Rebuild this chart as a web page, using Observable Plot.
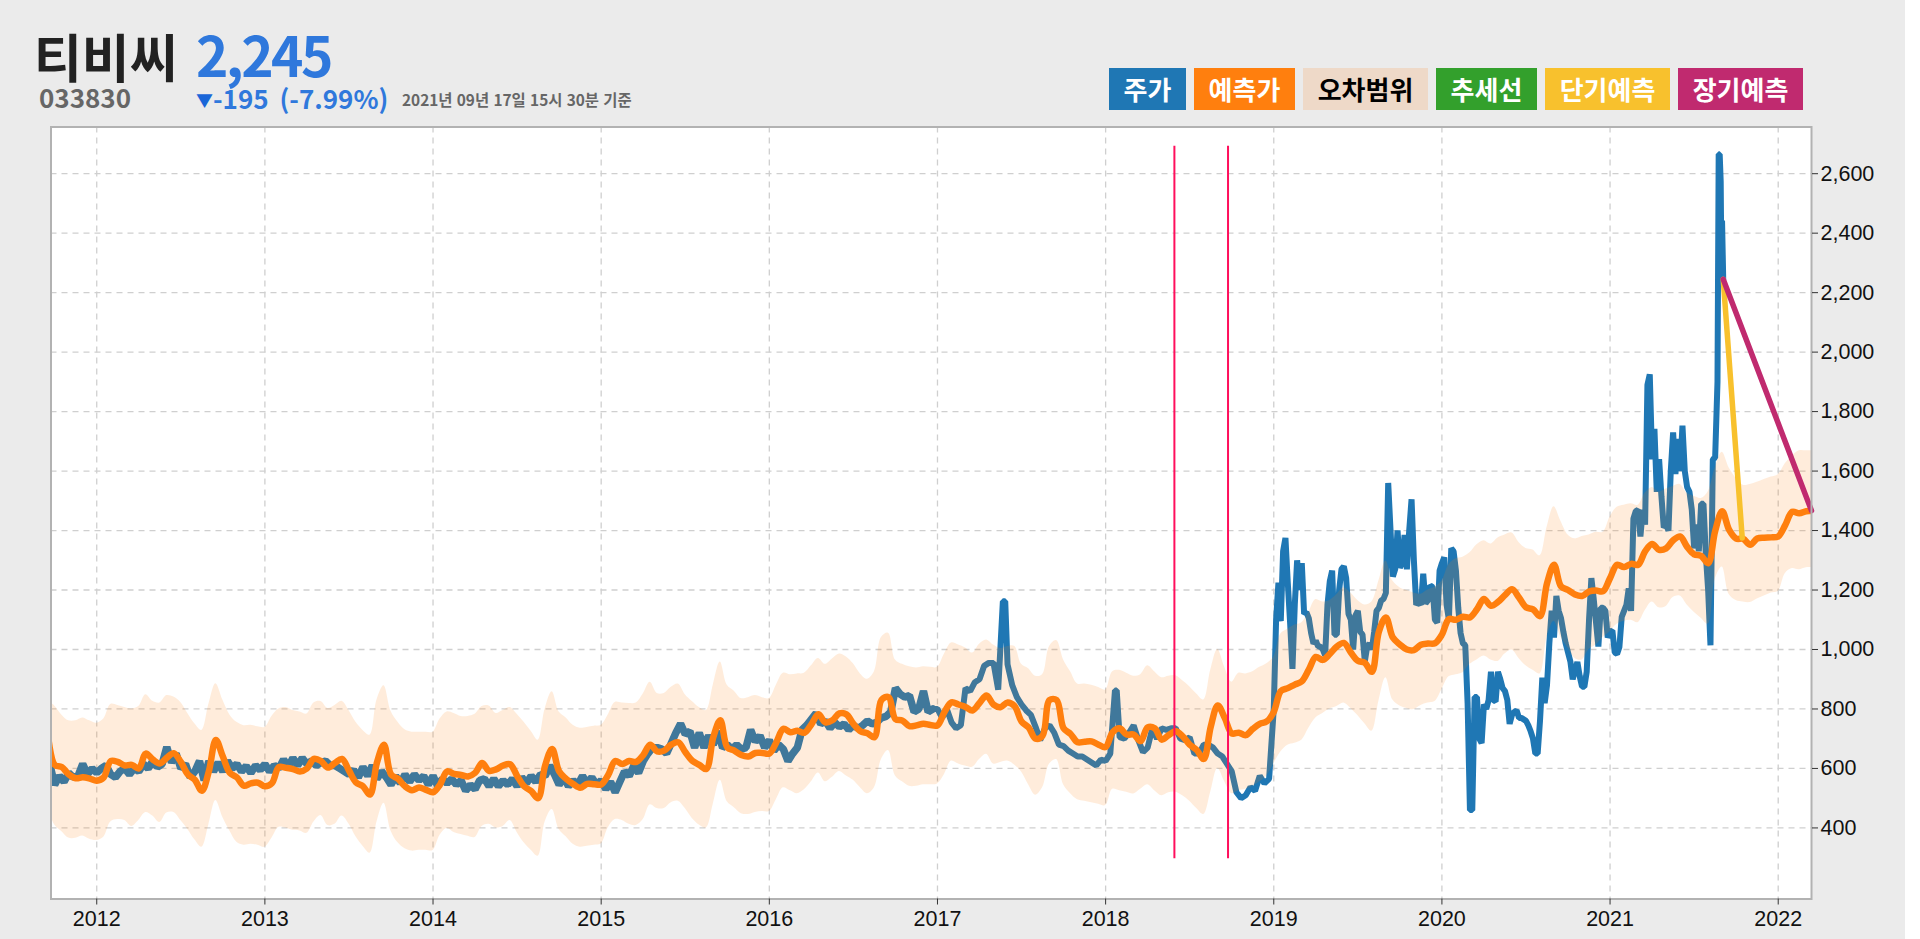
<!DOCTYPE html>
<html lang="ko">
<head>
<meta charset="utf-8">
<script src="https://cdn.jsdelivr.net/npm/d3@7"></script>
<script src="https://cdn.jsdelivr.net/npm/@observablehq/plot@0.6"></script>
<style>
html,body{margin:0;padding:0;background:#fff;overflow:hidden;height:939px}
#page{position:relative;width:1905px;height:939px;background:#ebebeb;overflow:hidden;font-family:"Noto Sans CJK KR",sans-serif}
#head{position:relative;height:120px}
#head div{position:absolute;white-space:nowrap;font-weight:700;line-height:1}
.lg{top:67.5px;height:42px;line-height:42px !important;text-align:center;font-size:26px;color:#fff}
#chart svg{display:block}
</style>
</head>
<body>
<div id="page">
  <div id="head">
    <div style="left:34px;top:30px;font-size:52px;color:#222">티비씨</div>
    <div style="left:39px;top:84px;font-size:26px;color:#666">033830</div>
    <div style="left:196px;top:26px;font-size:55px;color:#2f78dc;letter-spacing:-2.6px">2,245</div>
    <div style="left:196px;top:85px;font-size:26px;color:#2f78dc;word-spacing:5px"><span style="color:#1a66d8;font-size:17px;vertical-align:2px">▼</span>-195 (-7.99%)</div>
    <div style="left:402px;top:92px;font-size:15.4px;color:#666">2021년 09년 17일 15시 30분 기준</div>
    <div class="lg" style="left:1109px;width:77px;background:#1f77b4">주가</div>
    <div class="lg" style="left:1194px;width:101px;background:#ff7f0e">예측가</div>
    <div class="lg" style="left:1303px;width:125px;background:#eed9c8;color:#000">오차범위</div>
    <div class="lg" style="left:1436px;width:101px;background:#33a02c">추세선</div>
    <div class="lg" style="left:1545px;width:125px;background:#f8c12d">단기예측</div>
    <div class="lg" style="left:1678px;width:125px;background:#c02a6f">장기예측</div>
  </div>
  <div id="chart"></div>
</div>
<script>
// x positions are decimal years; every row holds readings
const xTicks = [2012,2013,2014,2015,2016,2017,2018,2019,2020,2021,2022];
const yTicks = [400,600,800,1000,1200,1400,1600,1800,2000,2200,2400,2600];
const xDomain = [2011.728, 2022.198];
const yDomain = [161, 2757];

// share price, 36 readings a year up to 2018, 72 after that
const stock2011 = [610,545,575,555,585,570,575,615,580,600];
const stock2012 = [585,600,610,580,570,590,600,580,600,590,615,600,625,605,615,672,620,650,600,615,570,590,625,560,625,590,620,590,625,600,615,590,608,585,610,595];
const stock2013 = [615,590,610,600,630,605,635,610,635,615,625,610,620,625,610,610,600,590,580,595,570,605,575,610,565,590,570,545,575,550,580,555,580,560,575,545];
const stock2014 = [575,540,565,550,565,545,560,525,545,530,560,565,540,565,540,560,545,565,540,570,550,575,555,580,575,610,580,545,570,540,560,545,575,550,570,545];
const stock2015 = [560,530,555,520,555,590,575,610,585,625,650,670,670,665,650,685,720,750,715,725,670,720,670,710,680,725,670,680,665,680,665,670,730,690,710,670];
const stock2016 = [695,660,680,665,625,650,670,730,745,765,785,750,760,735,755,740,750,730,745,735,745,760,750,755,770,775,790,870,850,840,845,790,800,860,790,800];
const stock2017 = [800,770,800,755,735,745,870,860,890,900,945,955,955,865,1162,950,880,840,815,795,780,740,695,735,745,720,680,675,660,650,640,640,630,620,610,630];
const stock2018 = [625,650,862,705,700,720,745,695,655,670,735,700,735,730,735,735,700,695,705,650,650,680,680,670,650,640,615,590,520,500,510,537,525,575,550,565];
const stock2019 = [800,1100,1225,1095,1330,1375,1225,1090,935,1150,1300,1200,
  1290,1120,1125,1105,1055,1020,1030,1010,1010,1000,980,1150,
  1230,1265,1050,1050,1200,1270,1280,1240,1120,1100,1000,1115,
  1130,1060,1050,960,1010,1020,1000,1060,1130,1140,1165,1170,
  1190,1560,1400,1245,1270,1400,1275,1290,1385,1270,1400,1505,
  1300,1150,1160,1150,1255,1155,1165,1215,1210,1100,1090,1265];
const stock2020 = [1290,1310,1150,1100,1340,1330,1265,1140,1055,1020,1015,820,
  460,460,840,840,700,685,815,800,830,925,830,825,
  925,900,870,860,830,750,780,790,795,770,770,765,
  760,745,725,700,650,650,760,905,820,880,1020,1130,
  1040,1180,1130,1105,1060,1020,990,960,900,930,958,910,
  875,875,925,1100,1240,1170,1090,1010,1140,1140,1130,1040];
const stock2021 = [1060,1064,990,985,1008,1110,1130,1150,1205,1130,1440,1465,
  1470,1380,1470,1420,1890,1925,1640,1742,1530,1640,1515,1410,
  1420,1400,1600,1730,1590,1708,1600,1753,1600,1546,1530,1470,
  1340,1420,1330,1490,1490,1320,1200,1014,1640,1645,1900];
const stockExtraYears = [2017.403,2018.066,2021.646,2021.652,2021.658,2021.662,2021.666,2021.673];
const stockExtraValues = [1162,862,2665,2665,2574,2300,2442,2245];

// forecast, 24 readings a year
const fc2011 = [720,612,605,580,567,570,566];
const fc2012 = [559,570,625,622,610,612,600,650,630,617,636,651,622,580,562,525,590,696,640,585,570,542,550,552];
const fc2013 = [540,550,605,602,598,590,600,632,625,603,618,632,593,553,540,512,620,680,580,565,540,527,536,528];
const fc2014 = [520,546,590,582,578,573,585,618,592,597,610,614,575,540,524,500,610,665,590,565,548,535,548,547];
const fc2015 = [546,578,625,615,625,622,645,680,657,660,680,688,655,626,612,598,705,762,671,660,645,640,652,652];
const fc2016 = [650,688,733,722,727,720,748,782,755,762,785,782,750,725,718,705,830,840,766,761,742,745,750,746];
const fc2017 = [745,790,822,815,807,795,820,845,815,806,822,810,758,738,700,710,830,830,735,716,688,690,691,680];
const fc2018 = [672,722,735,714,714,692,738,735,697,712,725,708,680,662,632,740,812,770,718,720,712,733,750,758];
const fc2019 = [790,860,870,882,893,932,975,965,985,1010,1022,990,962,955,925,1060,1108,1040,1017,1000,998,1016,1020,1021];
const fc2020 = [1050,1102,1100,1110,1108,1135,1170,1147,1160,1183,1203,1175,1142,1135,1112,1222,1285,1212,1200,1185,1180,1195,1198,1196];
const fc2021 = [1240,1285,1277,1288,1285,1330,1355,1335,1340,1367,1380,1345,1320,1315,1290,1398,1465,1402,1373,1372,1352,1373,1376,1377];
const fc2022 = [1380,1418,1463,1458,1465,1465];

// upper edge of the error band, 24 readings a year
const up2011 = [830,810,780,760,760,770,760];
const up2012 = [752,766,815,812,805,800,808,848,826,820,845,840,822,785,750,728,815,885,830,780,755,744,745,740];
const up2013 = [738,775,800,805,795,790,783,820,825,802,812,826,795,755,728,712,830,878,792,755,730,722,722,722];
const up2014 = [722,766,790,785,775,775,782,808,810,785,795,805,782,755,725,695,800,858,790,770,745,735,738,742];
const up2015 = [745,780,822,820,818,820,850,890,852,852,873,884,848,825,805,795,880,958,880,860,835,838,845,838];
const up2016 = [835,880,920,915,918,920,945,970,950,968,985,975,952,918,900,925,1040,1055,965,950,942,938,942,940];
const up2017 = [940,985,1022,1015,1005,988,1018,1032,1015,1003,1010,1011,950,935,910,915,1010,1030,965,925,884,884,880,872];
const up2018 = [864,925,930,920,910,915,945,925,905,910,912,895,875,850,830,930,1000,940,890,920,918,925,940,952];
const up2019 = [975,1052,1068,1082,1090,1125,1168,1160,1165,1185,1208,1190,1165,1150,1160,1230,1298,1230,1208,1198,1190,1186,1200,1210];
const up2020 = [1230,1285,1305,1310,1325,1352,1366,1355,1375,1385,1392,1360,1340,1335,1315,1410,1480,1430,1385,1372,1380,1385,1394,1394];
const up2021 = [1445,1478,1485,1490,1485,1525,1545,1530,1540,1548,1555,1525,1515,1508,1530,1610,1663,1610,1575,1552,1555,1562,1572,1580];
const up2022 = [1588,1625,1650,1668,1668,1668];

// lower edge of the error band, 24 readings a year
const lo2011 = [470,410,388,366,365,373,362];
const lo2012 = [358,369,420,428,425,405,425,452,440,418,450,452,425,395,360,335,410,492,435,390,352,342,345,342];
const lo2013 = [335,365,402,400,392,390,382,420,442,408,412,440,413,370,338,315,420,483,390,350,330,322,325,325];
const lo2014 = [324,375,398,385,378,372,368,405,412,400,405,425,385,350,325,305,420,462,395,370,345,335,338,342];
const lo2015 = [346,400,428,425,412,408,428,478,465,465,485,490,465,432,410,400,480,560,488,468,448,445,452,455];
const lo2016 = [455,495,535,525,515,528,555,585,555,570,590,575,560,535,515,535,630,660,575,555,540,540,545,545];
const lo2017 = [548,580,625,615,608,604,630,648,615,620,625,612,588,545,510,535,615,630,545,515,495,490,485,480];
const lo2018 = [475,530,525,520,514,530,545,525,508,518,520,508,490,465,445,520,600,555,515,525,530,540,555,575];
const lo2019 = [615,655,678,685,695,735,770,785,800,808,820,802,778,750,725,825,905,830,810,802,798,812,820,825];
const lo2020 = [865,908,915,922,950,965,978,965,960,985,998,970,945,930,918,1040,1095,1040,1005,970,965,1000,1015,1040];
const lo2021 = [1060,1085,1095,1098,1090,1130,1160,1140,1145,1175,1180,1150,1125,1105,1085,1235,1277,1185,1165,1160,1158,1170,1180,1190];
const lo2022 = [1195,1255,1272,1268,1275,1275];

// straight forecast lines from the last price
const shortYears = [2021.673, 2021.786];
const shortValues = [2245, 1375];
const longYears = [2021.673, 2022.198];
const longValues = [2245, 1467];
// red marker lines
const markerYears = [2018.409, 2018.728];
const markerFrom = 296;
const markerTo = 2692;

const place = (vals, year, perYear, offset = 0) =>
  vals.map((y, i) => ({x: year + (offset + i) / perYear, y}));

const stockEarly = [
  ...place(stock2011, 2011, 36, 26),
  ...[[stock2012,2012],[stock2013,2013],[stock2014,2014],[stock2015,2015],[stock2016,2016]]
    .flatMap(([v, yr]) => place(v, yr, 36))
];
const stockData = [
  ...stockEarly,
  ...place(stock2017, 2017, 36),
  ...place(stock2018, 2018, 36),
  ...place(stock2019, 2019, 72),
  ...place(stock2020, 2020, 72),
  ...place(stock2021, 2021, 72),
  ...stockExtraYears.map((x, i) => ({x, y: stockExtraValues[i]}))
].sort((a, b) => a.x - b.x);

const yearly = (rows) => rows.flatMap((v, k) =>
  k === 0 ? place(v, 2011, 24, 17) : place(v, 2011 + k, 24));

const fcData = yearly([fc2011,fc2012,fc2013,fc2014,fc2015,fc2016,fc2017,fc2018,fc2019,fc2020,fc2021,fc2022]);
const upData = yearly([up2011,up2012,up2013,up2014,up2015,up2016,up2017,up2018,up2019,up2020,up2021,up2022]);
const loData = yearly([lo2011,lo2012,lo2013,lo2014,lo2015,lo2016,lo2017,lo2018,lo2019,lo2020,lo2021,lo2022]);
const bandData = upData.map((d, i) => ({x: d.x, up: d.y, lo: loData[i].y}));
const shortData = shortYears.map((x, i) => ({x, y: shortValues[i]}));
const longData = longYears.map((x, i) => ({x, y: longValues[i]}));

const plot = Plot.plot({
  width: 1905,
  height: 819,
  marginLeft: 50.5,
  marginRight: 94,
  marginTop: 6.5,
  marginBottom: 40.5,
  style: {background: "transparent", fontFamily: "'Liberation Sans',sans-serif", overflow: "visible"},
  x: {domain: xDomain},
  y: {domain: yDomain},
  marks: [
    Plot.frame({fill: "#fff", stroke: "none"}),
    Plot.ruleX(xTicks, {x: d => d, stroke: "#cfcfcf", strokeWidth: 1.3, strokeDasharray: "6,5"}),
    Plot.ruleY(yTicks, {y: d => d, stroke: "#cfcfcf", strokeWidth: 1.3, strokeDasharray: "6,5"}),
    Plot.line(stockData, {x: "x", y: "y", stroke: "#1f77b4", strokeWidth: 6, strokeLinejoin: "bevel", clip: true}),
    Plot.line(stockEarly, {x: "x", y: "y", stroke: "#1f77b4", strokeWidth: 7.5, strokeLinejoin: "bevel", clip: true}),
    Plot.areaY(bandData, {x: "x", y1: "lo", y2: "up", fill: "#ff7f0e", fillOpacity: 0.15, curve: "catmull-rom", clip: true}),
    Plot.line(fcData, {x: "x", y: "y", stroke: "#ff7f0e", strokeWidth: 6.5, curve: "catmull-rom", clip: true}),
    Plot.line(shortData, {x: "x", y: "y", stroke: "#f8c12d", strokeWidth: 5.5}),
    Plot.line(longData, {x: "x", y: "y", stroke: "#c02a6f", strokeWidth: 5.5}),
    Plot.ruleX(markerYears, {x: d => d, y1: markerFrom, y2: markerTo, stroke: "#ff0f5c", strokeWidth: 2}),
    Plot.frame({stroke: "#b2b2b2", strokeWidth: 2}),
    Plot.axisX(xTicks, {anchor: "bottom", tickFormat: d3.format("d"), tickSize: 6, tickPadding: 6, fontSize: 21.5, label: null, stroke: "#333", fill: "#111"}),
    Plot.axisY(yTicks, {anchor: "right", tickFormat: d3.format(","), tickSize: 6, tickPadding: 3, fontSize: 21.5, label: null, stroke: "#333", fill: "#111"})
  ]
});
document.getElementById("chart").appendChild(plot);
</script>
</body>
</html>
